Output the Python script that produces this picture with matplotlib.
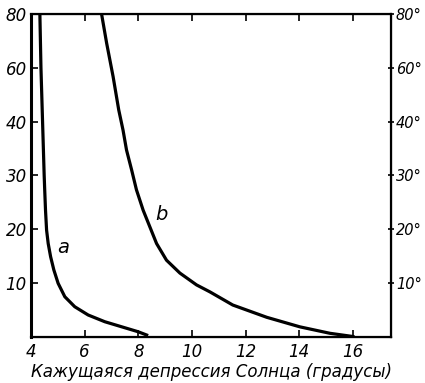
import numpy as np
import matplotlib
matplotlib.use("Agg")
import matplotlib.pyplot as plt

# Data
a_x = [4.33, 4.35, 4.37, 4.40, 4.43, 4.49, 4.51, 4.54, 4.58, 4.64, 4.73, 4.85, 5.01, 5.26, 5.63, 6.13, 6.75, 7.37, 7.99, 8.31]
a_y = [80, 70, 60, 50, 40, 30, 27.3, 23.5, 19.8, 17.3, 14.85, 12.4, 9.9, 7.4, 5.54, 4.0, 2.75, 1.82, 0.89, 0.28]
b_x = [6.63, 6.82, 7.06, 7.27, 7.43, 7.56, 7.75, 7.93, 8.18, 8.43, 8.68, 9.05, 9.55, 10.17, 10.67, 11.52, 12.79, 14.02, 15.14, 16.0]
b_y = [80, 69.1, 56.7, 44.3, 38.4, 34.7, 31.0, 27.3, 23.5, 20.4, 17.3, 14.2, 11.8, 9.6, 8.3, 5.86, 3.57, 1.8, 0.6, 0]

x_ticks = [4, 6, 8, 10, 12, 14, 16]
y_ticks = [10, 20, 30, 40, 60, 80]
y_left_labels = ["10", "20", "30", "40", "60", "80"]
y_right_labels = ["10°", "20°", "30°", "40°", "60°", "80°"]
scale_vals = [0, 10, 20, 30, 40, 60, 80]
xlabel = "Кажущаяся депрессия Солнца (градусы)"

FONT = ['DejaVu Sans']
plt.rcParams['font.family'] = FONT

pos = np.arange(len(scale_vals), dtype=float)
def fwd(v):
    return np.interp(v, scale_vals, pos)
def inv(p):
    return np.interp(p, pos, scale_vals)

fig = plt.figure(figsize=(4.25, 3.83), dpi=100)
ax = fig.add_axes([0.073, 0.1214, 0.847, 0.842])
ax.set_yscale('function', functions=(fwd, inv))
ax.plot(a_x, a_y, color='black', lw=2.3, solid_joinstyle='round')
ax.plot(b_x, b_y, color='black', lw=2.3, solid_joinstyle='round')
ax.set_xlim(4, 17.42)
ax.set_ylim(0, 80)

tfont = dict(family=FONT, style='italic', size=12)
ax.set_xticks(x_ticks)
ax.set_xticklabels([str(t) for t in x_ticks], **tfont)
ax.set_yticks(y_ticks)
ax.set_yticklabels(y_left_labels, **tfont)
ax.yaxis.set_minor_locator(matplotlib.ticker.NullLocator())
ax.tick_params(direction='in', length=5, width=1.2, top=True, right=False, pad=3)
ax.tick_params(axis='x', pad=5)
for s in ax.spines.values():
    s.set_linewidth(1.6)
ax.spines['left'].set_linewidth(2.2)

ax2 = ax.twinx()
ax2.set_yscale('function', functions=(fwd, inv))
ax2.set_ylim(0, 80)
ax2.set_yticks(y_ticks)
ax2.set_yticklabels(y_right_labels, family=FONT, style='italic', size=10.5)
ax2.yaxis.set_minor_locator(matplotlib.ticker.NullLocator())
ax2.tick_params(direction='inout', length=5, width=1.2, pad=1)

ax.set_xlabel(xlabel, family=FONT, style='italic', size=12, labelpad=1)

ax.text(5.19, 16.6, "a", family=FONT, style='italic', size=14, ha='center', va='center')
ax.text(8.88, 22.7, "b", family=FONT, style='italic', size=14, ha='center', va='center')

fig.savefig("out.png", dpi=100)
